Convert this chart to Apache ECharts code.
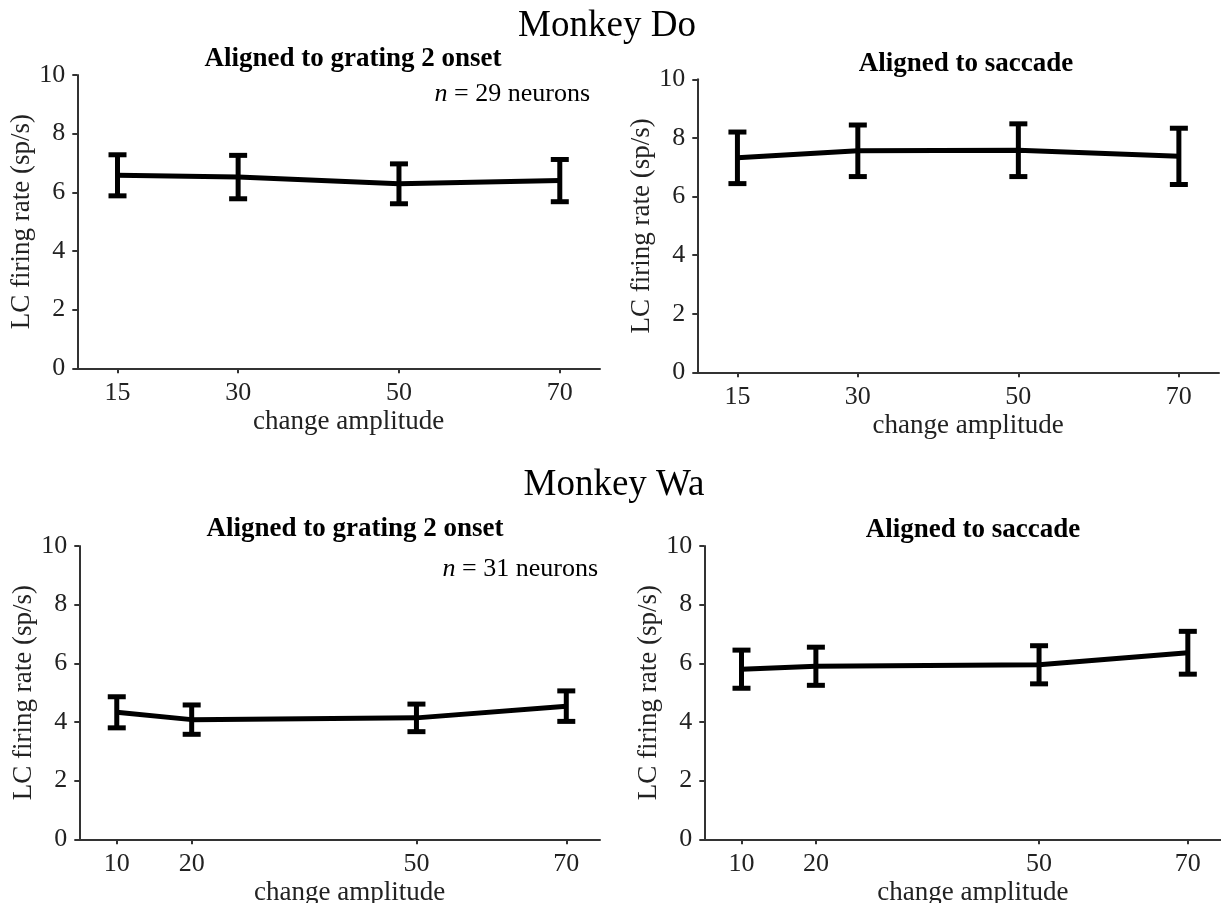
<!DOCTYPE html>
<html>
<head>
<meta charset="utf-8">
<script src="https://cdn.jsdelivr.net/npm/echarts@6/dist/echarts.min.js"></script>
<style>
html,body{margin:0;padding:0;background:#fff;}
#chart{width:1221px;height:903px;}
</style>
</head>
<body>
<div id="chart"></div>
<script>
// ---- data ----
const ampDo = [15, 30, 50, 70];
const ampWa = [10, 20, 50, 70];
const yTicks = [0, 2, 4, 6, 8, 10];

const doGratingMean = [6.58, 6.52, 6.29, 6.40];
const doGratingErr  = [0.70, 0.74, 0.68, 0.72];
const doSaccadeMean = [7.32, 7.56, 7.58, 7.37];
const doSaccadeErr  = [0.88, 0.88, 0.90, 0.96];
const waGratingMean = [4.33, 4.08, 4.14, 4.54];
const waGratingErr  = [0.53, 0.50, 0.47, 0.52];
const waSaccadeMean = [5.80, 5.90, 5.95, 6.36];
const waSaccadeErr  = [0.65, 0.65, 0.65, 0.73];

const panelTitles = ['Aligned to grating 2 onset', 'Aligned to saccade', 'Aligned to grating 2 onset', 'Aligned to saccade'];
const monkeyTitles = ['Monkey Do', 'Monkey Wa'];
const neuronCounts = [29, 31];
const xName = 'change amplitude';
const yName = 'LC firing rate (sp/s)';

// ---- layout ----
const FONT = '"Liberation Serif", "Times New Roman", serif';
const grids = [
  {left: 77.3, top: 75, width: 522.7, height: 293.3},
  {left: 697.3, top: 79.3, width: 521.7, height: 293},
  {left: 79.3, top: 546, width: 520.7, height: 293.3},
  {left: 704.3, top: 546, width: 517, height: 293.3}
].map(g => Object.assign(g, {containLabel: false, outerBoundsMode: 'none'}));
const xRanges = [[10, 75], [10, 75], [5, 74.5], [5, 74.5]];
const panels = [
  {x: ampDo, m: doGratingMean, e: doGratingErr},
  {x: ampDo, m: doSaccadeMean, e: doSaccadeErr},
  {x: ampWa, m: waGratingMean, e: waGratingErr},
  {x: ampWa, m: waSaccadeMean, e: waSaccadeErr}
];

const axisColor = '#333';
const xAxes = panels.map((p, i) => ({
  type: 'value', gridIndex: i, min: xRanges[i][0], max: xRanges[i][1],
  axisLine: {show: true, lineStyle: {color: axisColor, width: 2}},
  axisTick: {show: true, length: 5, lineStyle: {color: axisColor, width: 2}, customValues: p.x},
  axisLabel: {color: '#222', fontFamily: FONT, fontSize: 26, margin: 12, customValues: p.x},
  splitLine: {show: false},
  name: xName, nameLocation: 'middle', nameGap: 40,
  nameTextStyle: {color: '#222', fontFamily: FONT, fontSize: 27, padding: [0, 0, 0, 20]}
}));
const yAxes = panels.map((p, i) => ({
  type: 'value', gridIndex: i, min: 0, max: 10, interval: 2,
  axisLine: {show: true, lineStyle: {color: axisColor, width: 2}},
  axisTick: {show: true, length: 5, lineStyle: {color: axisColor, width: 2}},
  axisLabel: {color: '#222', fontFamily: FONT, fontSize: 26, margin: 12, customValues: yTicks},
  splitLine: {show: false},
  name: yName, nameLocation: 'middle', nameGap: 34,
  nameTextStyle: {color: '#222', fontFamily: FONT, fontSize: 27}
}));

const series = [];
panels.forEach((p, i) => {
  series.push({
    type: 'line', xAxisIndex: i, yAxisIndex: i,
    data: p.x.map((x, k) => [x, p.m[k]]),
    showSymbol: false, symbol: 'none',
    lineStyle: {color: '#000', width: 5},
    z: 2, animation: false
  });
  series.push({
    type: 'custom', xAxisIndex: i, yAxisIndex: i,
    data: p.x.map((x, k) => [x, p.m[k] - p.e[k], p.m[k] + p.e[k]]),
    renderItem: function (params, api) {
      const lo = api.coord([api.value(0), api.value(1)]);
      const hi = api.coord([api.value(0), api.value(2)]);
      const hw = 9;
      const st = {stroke: '#000', lineWidth: 5};
      return {
        type: 'group',
        children: [
          {type: 'line', shape: {x1: lo[0], y1: lo[1], x2: hi[0], y2: hi[1]}, style: st},
          {type: 'line', shape: {x1: lo[0] - hw, y1: lo[1], x2: lo[0] + hw, y2: lo[1]}, style: st},
          {type: 'line', shape: {x1: hi[0] - hw, y1: hi[1], x2: hi[0] + hw, y2: hi[1]}, style: st}
        ]
      };
    },
    encode: {x: 0, y: [1, 2]},
    z: 3, animation: false
  });
});

const graphic = [
  {type: 'text', x: 607, y: 26, style: {text: monkeyTitles[0], font: '37px ' + FONT, fill: '#000', align: 'center', verticalAlign: 'middle'}},
  {type: 'text', x: 614, y: 485, style: {text: monkeyTitles[1], font: '37px ' + FONT, fill: '#000', align: 'center', verticalAlign: 'middle'}},
  {type: 'text', x: 353, y: 59, style: {text: panelTitles[0], font: 'bold 27px ' + FONT, fill: '#000', align: 'center', verticalAlign: 'middle'}},
  {type: 'text', x: 966, y: 64, style: {text: panelTitles[1], font: 'bold 27px ' + FONT, fill: '#000', align: 'center', verticalAlign: 'middle'}},
  {type: 'text', x: 355, y: 529, style: {text: panelTitles[2], font: 'bold 27px ' + FONT, fill: '#000', align: 'center', verticalAlign: 'middle'}},
  {type: 'text', x: 973, y: 530, style: {text: panelTitles[3], font: 'bold 27px ' + FONT, fill: '#000', align: 'center', verticalAlign: 'middle'}},
  {type: 'text', x: 590, y: 94, style: {
    text: '{i|n} = ' + neuronCounts[0] + ' neurons', font: '26px ' + FONT, fill: '#000', align: 'right', verticalAlign: 'middle',
    rich: {i: {fontStyle: 'italic', fontFamily: FONT, fontSize: 26, fill: '#000'}}}},
  {type: 'text', x: 598, y: 569, style: {
    text: '{i|n} = ' + neuronCounts[1] + ' neurons', font: '26px ' + FONT, fill: '#000', align: 'right', verticalAlign: 'middle',
    rich: {i: {fontStyle: 'italic', fontFamily: FONT, fontSize: 26, fill: '#000'}}}}
];

const chart = echarts.init(document.getElementById('chart'), null, {renderer: 'canvas'});
chart.setOption({
  animation: false,
  backgroundColor: '#fff',
  grid: grids,
  xAxis: xAxes,
  yAxis: yAxes,
  series: series,
  graphic: graphic
});
</script>
</body>
</html>
